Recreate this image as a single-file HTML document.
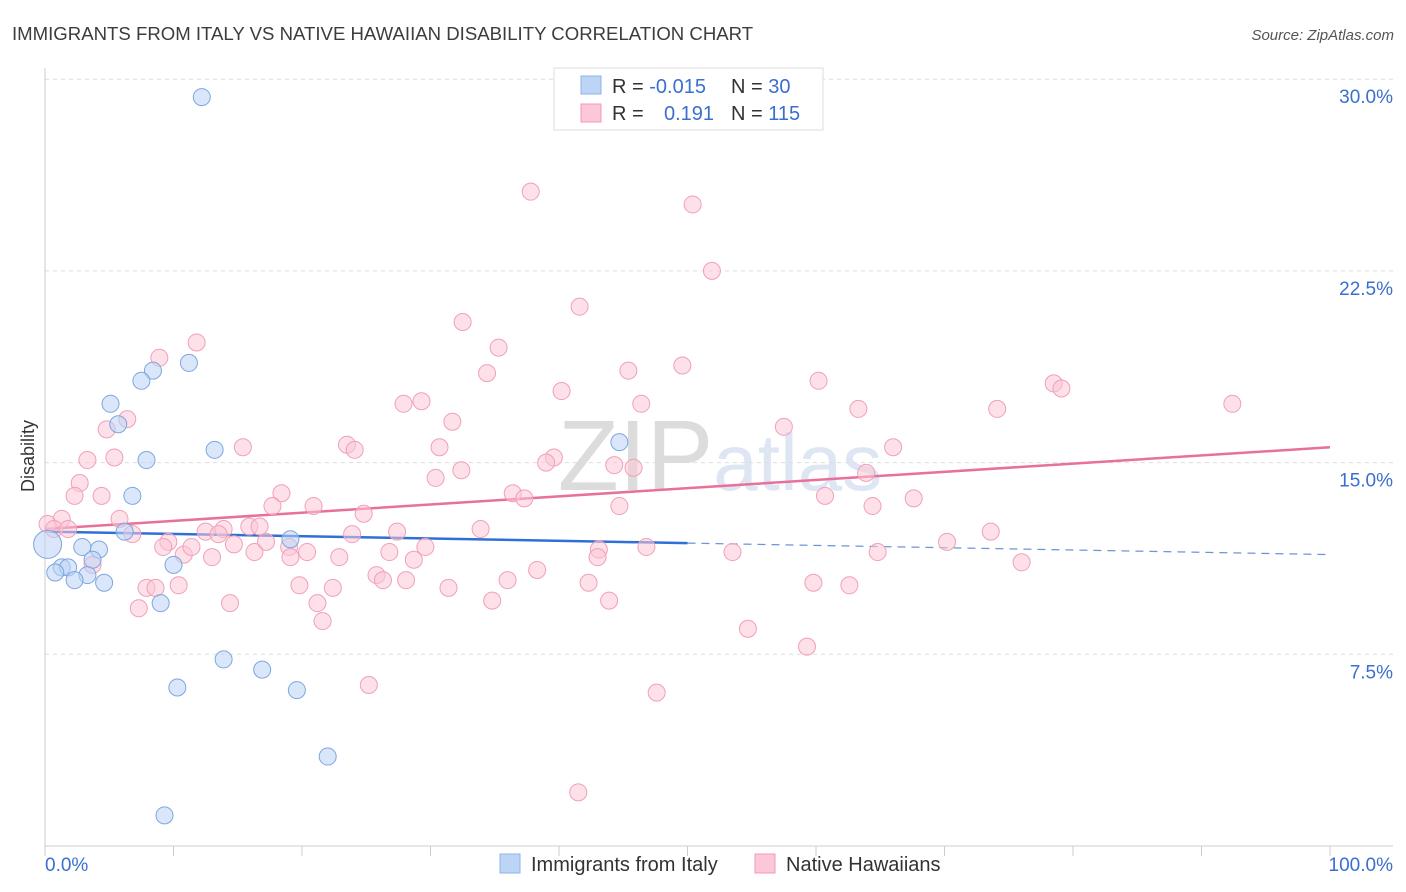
<!DOCTYPE html>
<html><head><meta charset="utf-8"><style>
body{margin:0;background:#fff;font-family:"Liberation Sans",sans-serif;}
#wrap{position:relative;width:1406px;height:892px;overflow:hidden;}
svg text{font-family:"Liberation Sans",sans-serif;}
</style></head><body>
<div id="wrap">
<svg id="chart" width="1406" height="892">
<text x="12" y="40" font-size="18.6" fill="#3c3c3c">IMMIGRANTS FROM ITALY VS NATIVE HAWAIIAN DISABILITY CORRELATION CHART</text>
<text x="1394" y="40" font-size="15" fill="#555" font-style="italic" text-anchor="end">Source: ZipAtlas.com</text>
<text x="34" y="456" font-size="18" fill="#333" text-anchor="middle" transform="rotate(-90 34 456)">Disability</text>
<text x="720" y="490" font-size="100" fill="#e4e4e4" text-anchor="middle" font-family="Liberation Serif"><tspan fill="#dcdcdc">ZIP</tspan><tspan fill="#dde6f2" font-family="Liberation Sans" font-size="80">atlas</tspan></text>
<g id="grid"></g><g id="axes"></g><g id="trends"></g><g id="pts"></g>
<g>
<rect x="554" y="68" width="269" height="62" fill="#fff" stroke="#ddd"/>
<rect x="581" y="76" width="20" height="18" fill="#bcd4f5" stroke="#8fb3e6"/>
<rect x="581" y="104" width="20" height="18" fill="#fcc7d6" stroke="#f29ab5"/>
<text x="612" y="93" font-size="20" fill="#333">R = <tspan fill="#3a6fd0">-0.015</tspan><tspan x="731">N = </tspan><tspan fill="#3a6fd0">30</tspan></text>
<text x="612" y="120" font-size="20" fill="#333">R = <tspan x="664" fill="#3a6fd0">0.191</tspan><tspan x="731">N = </tspan><tspan fill="#3a6fd0">115</tspan></text>
</g>
<g>
<rect x="500" y="854" width="20" height="19" fill="#bcd4f5" stroke="#8fb3e6"/>
<text x="531" y="871" font-size="20" fill="#333">Immigrants from Italy</text>
<rect x="755" y="854" width="20" height="19" fill="#fcc7d6" stroke="#f29ab5"/>
<text x="786" y="871" font-size="20" fill="#333">Native Hawaiians</text>
</g>
</svg></div>
<script>
const yTicks=[7.5,15,22.5,30];
const yTickLabels=["7.5%","15.0%","22.5%","30.0%"];
const xTickLabels=["0.0%","100.0%"];
const italyX=[12.2,11.2,8.4,7.5,5.1,5.7,7.9,13.2,6.8,6.2,19.1,44.7,2.9,4.2,3.7,1.3,1.8,0.8,3.3,2.3,4.6,10.0,9.0,13.9,16.9,10.3,19.6,22.0,9.3];
const italyY=[29.3,18.9,18.6,18.2,17.3,16.5,15.1,15.5,13.7,12.3,12.0,15.8,11.7,11.6,11.2,10.9,10.9,10.7,10.6,10.4,10.3,11.0,9.5,7.3,6.9,6.2,6.1,3.5,1.2];
const hawX=[37.8,50.4,51.9,41.6,32.5,35.3,11.8,8.9,34.4,45.4,49.6,60.2,78.5,79.1,40.2,27.9,29.3,46.4,63.3,74.1,92.4,6.4,4.8,31.7,57.5,15.4,23.5,24.1,30.7,66.0,3.3,5.4,39.6,39.0,44.3,45.8,32.4,30.4,63.9,2.7,2.3,4.4,18.4,36.4,37.3,60.7,67.6,17.7,20.9,44.7,64.4,24.8,1.3,5.8,0.2,0.7,1.8,6.8,12.5,13.9,15.9,16.7,33.9,27.4,13.5,23.9,73.6,9.6,9.2,10.8,11.4,14.7,17.2,19.0,20.4,29.6,26.8,70.2,43.1,46.8,64.8,53.5,19.1,13.0,16.3,22.9,43.0,28.7,76.0,3.7,38.3,25.8,26.3,28.1,36.0,42.3,7.9,8.6,10.4,19.8,22.4,31.4,59.8,62.6,34.8,43.9,7.3,14.4,21.2,21.6,54.7,59.3,25.2,47.6,41.5];
const hawY=[25.6,25.1,22.5,21.1,20.5,19.5,19.7,19.1,18.5,18.6,18.8,18.2,18.1,17.9,17.8,17.3,17.4,17.3,17.1,17.1,17.3,16.7,16.3,16.6,16.4,15.6,15.7,15.5,15.6,15.6,15.1,15.2,15.2,15.0,14.9,14.8,14.7,14.4,14.6,14.2,13.7,13.7,13.8,13.8,13.6,13.7,13.6,13.3,13.3,13.3,13.3,13.0,12.8,12.8,12.6,12.4,12.4,12.2,12.3,12.4,12.5,12.5,12.4,12.3,12.2,12.2,12.3,11.9,11.7,11.4,11.7,11.8,11.9,11.7,11.5,11.7,11.5,11.9,11.6,11.7,11.5,11.5,11.3,11.3,11.5,11.3,11.3,11.2,11.1,11.0,10.8,10.6,10.4,10.4,10.4,10.3,10.1,10.1,10.2,10.2,10.1,10.1,10.3,10.2,9.6,9.6,9.3,9.5,9.5,8.8,8.5,7.8,6.3,6.0,2.1];
const italyBig=[0.2,11.8];
const italyTrend=[12.3,11.4];
const italySolidEnd=50;
const hawTrend=[12.4,15.6];
const NS="http://www.w3.org/2000/svg";
const X=v=>45+v*12.85, Y=v=>846-v*25.56;
function mk(t,a,p){const e=document.createElementNS(NS,t);for(const k in a)e.setAttribute(k,a[k]);document.getElementById(p).appendChild(e);return e;}
yTicks.forEach((t,i)=>{
 const l=mk('line',{x1:45,x2:1393,y1:Y(t),y2:Y(t),stroke:'#ddd','stroke-dasharray':'4 4'},'grid');
 
 
 const tx=mk('text',{x:1393,y:Y(t)+24,'font-size':19,fill:'#3a6fd0','text-anchor':'end'},'axes');
 tx.textContent=yTickLabels[i];
 
 
});
mk('line',{x1:45,x2:45,y1:68,y2:846,stroke:'#ccc'},'axes');
mk('line',{x1:45,x2:1393,y1:846,y2:846,stroke:'#ccc'},'axes');
for(let i=0;i<=10;i++){const l=mk('line',{x1:X(i*10),x2:X(i*10),y1:846,y2:856,stroke:'#ccc'},'axes');
 
 }
[[45,'start',0],[1393,'end',1]].forEach(([x,a,i])=>{const t=mk('text',{x:x,y:871,'font-size':19,fill:'#3a6fd0','text-anchor':a},'axes');t.textContent=xTickLabels[i];
 
 });
function pt(x,y,r,f,s){return mk('circle',{cx:X(x),cy:Y(y),r:r,fill:f,stroke:s,'stroke-width':1,'fill-opacity':0.55},'pts');}
hawX.forEach((x,i)=>{const c=pt(x,hawY[i],8.5,'#fcc7d6','#f0a0ba');
 
 });
italyX.forEach((x,i)=>{const c=pt(x,italyY[i],8.5,'#bcd4f5','#7ea6e0');
 
 });
const big=pt(italyBig[0],italyBig[1],14,'#bcd4f5','#7ea6e0');


const iy=x=>italyTrend[0]+(italyTrend[1]-italyTrend[0])*x/100;
const hy=x=>hawTrend[0]+(hawTrend[1]-hawTrend[0])*x/100;
const t1=mk('line',{x1:X(0),y1:Y(hy(0)),x2:X(100),y2:Y(hy(100)),stroke:'#e8709a','stroke-width':2.5},'trends');


const t2=mk('line',{x1:X(0),y1:Y(iy(0)),x2:X(italySolidEnd),y2:Y(iy(italySolidEnd)),stroke:'#2f6fd6','stroke-width':2.5},'trends');


const t3=mk('line',{x1:X(italySolidEnd),y1:Y(iy(italySolidEnd)),x2:X(100),y2:Y(iy(100)),stroke:'#6b95d8','stroke-width':1.2,'stroke-dasharray':'8 6'},'trends');


</script>
</body></html>
